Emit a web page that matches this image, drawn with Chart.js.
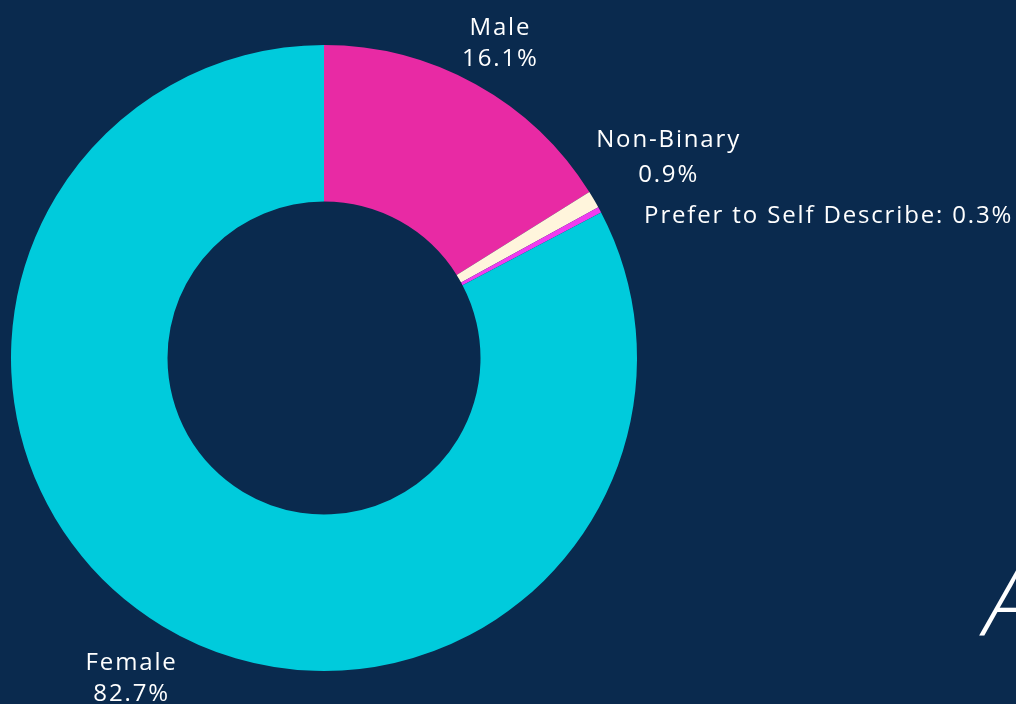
<!DOCTYPE html>
<html>
<head>
<meta charset="utf-8">
<script src="https://cdn.jsdelivr.net/npm/chart.js@4"></script>
<style>
  html, body { margin: 0; padding: 0; background: #0a2a4e; overflow: hidden; }
  #wrap { position: relative; width: 1016px; height: 704px; }
  #bigA {
    position: absolute; left: 984px; top: 554px;
    font-family: "Open Sans", sans-serif; font-weight: 300; font-style: italic;
    font-size: 92px; line-height: 1; color: #ffffff;
  }
</style>
</head>
<body>
<div id="wrap">
  <canvas id="genderChart" width="1016" height="704"></canvas>
  <div id="bigA">A</div>
</div>
<script>
  // Data
  var categories = ['Male', 'Non-Binary', 'Prefer to Self Describe', 'Female'];
  var shares = [16.1, 0.9, 0.3, 82.7];
  var sliceColors = ['#e82aa4', '#fff5dc', '#f03cf0', '#00cbdc'];

  // Label layout per slice: distance from centre, nudges, alignment, line gap
  var labelLayout = [
    { r: 362, dx: 1, dy: 2, align: 'center', inline: false, gap: 31 },
    { r: 395, dx: 4, dy: 0, align: 'center', inline: false, gap: 35 },
    { r: 360, dx: 3, dy: 29, align: 'left', inline: true, gap: 0 },
    { r: 372, dx: 0, dy: 2, align: 'center', inline: false, gap: 31 }
  ];

  // Draws the slice labels outside the ring
  const outsideLabels = {
    id: 'outsideLabels',
    afterDatasetsDraw(chart) {
      const ctx = chart.ctx;
      const arcs = chart.getDatasetMeta(0).data;
      ctx.save();
      ctx.fillStyle = '#ffffff';
      ctx.font = '24px "Open Sans", sans-serif';
      ctx.letterSpacing = '1.85px';
      ctx.textBaseline = 'middle';
      arcs.forEach((arc, i) => {
        const lay = labelLayout[i];
        const mid = (arc.startAngle + arc.endAngle) / 2;
        const x = arc.x + Math.cos(mid) * lay.r + lay.dx;
        const y = arc.y + Math.sin(mid) * lay.r + lay.dy;
        ctx.textAlign = lay.align;
        if (lay.inline) {
          ctx.fillText(categories[i] + ': ' + shares[i] + '%', x, y);
        } else {
          ctx.fillText(categories[i], x, y - lay.gap / 2);
          ctx.fillText(shares[i] + '%', x, y + lay.gap / 2);
        }
      });
      ctx.restore();
    }
  };

  var ctx = document.getElementById('genderChart').getContext('2d');
  var genderChart = new Chart(ctx, {
    type: 'doughnut',
    data: {
      labels: categories,
      datasets: [{
        data: shares,
        backgroundColor: sliceColors,
        borderWidth: 0,
        hoverOffset: 0
      }]
    },
    options: {
      responsive: false,
      animation: false,
      cutout: '50%',
      layout: { padding: { left: 11, right: 379, top: 45, bottom: 33 } },
      plugins: {
        legend: { display: false },
        tooltip: { enabled: false }
      }
    },
    plugins: [outsideLabels]
  });
</script>
</body>
</html>
